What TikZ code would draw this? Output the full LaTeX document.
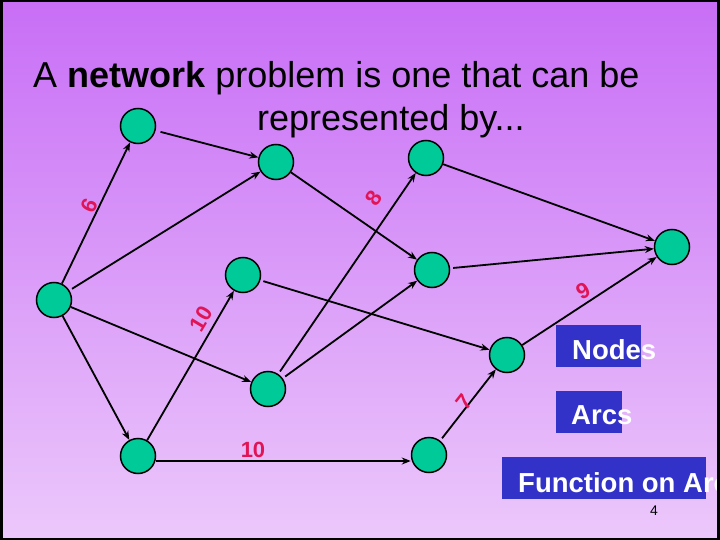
\documentclass[tikz,border=0pt]{standalone}
\usepackage{fontspec}
\setmainfont{Liberation Sans}
\usetikzlibrary{arrows.meta}
\definecolor{bgtop}{RGB}{200,110,246}
\definecolor{bgbot}{RGB}{236,200,251}
\definecolor{nodegreen}{RGB}{0,202,152}
\definecolor{labred}{RGB}{225,20,85}
\definecolor{boxblue}{RGB}{50,50,200}
\tikzset{
  vert/.style={circle, draw=black, line width=1.5pt, fill=nodegreen, minimum size=35pt, inner sep=0pt},
  arc/.style={draw=black, line width=1.8pt, -{Stealth[length=9pt,width=7pt]}},
  wlab/.style={text=labred, font=\bfseries\fontsize{22}{22}\selectfont, inner sep=0pt},
  titletext/.style={font=\fontsize{36}{36}\selectfont, inner sep=0pt, anchor=base west},
  bluebox/.style={fill=boxblue, draw=none},
  boxtext/.style={text=white, font=\bfseries\fontsize{27.5}{27.5}\selectfont, inner sep=0pt, anchor=base west}
}
\begin{document}
\begin{tikzpicture}[x=1pt,y=-1pt]
\useasboundingbox (0,0) rectangle (720,540);
\clip (0,0) rectangle (720,540);
\shade[top color=bgtop, bottom color=bgbot] (0,0) rectangle (720,540);

% title
\node[titletext] (t1) at (33,88) {A \textbf{network} problem is one that can be};
\node[titletext] (t2) at (257,131) {represented by...};

% nodes
\node[vert] (A) at (138,126) {};
\node[vert] (B) at (276,162) {};
\node[vert] (C) at (426,158) {};
\node[vert] (D) at (54,300) {};
\node[vert] (E) at (243,275) {};
\node[vert] (F) at (432,270) {};
\node[vert] (G) at (672,247) {};
\node[vert] (H) at (507,355) {};
\node[vert] (I) at (268,389) {};
\node[vert] (J) at (138,456) {};
\node[vert] (K) at (429,455) {};

% arcs
\draw[arc] (D) -- (A);
\draw[arc, shorten <=5pt] (A) -- (B);
\draw[arc, shorten <=3pt] (D) -- (B);
\draw[arc] (B) -- (F);
\draw[arc] (C) -- (G);
\draw[arc, shorten <=3pt] (F) -- (G);
\draw[arc] (H) -- (G);
\draw[arc, shorten <=3pt] (E) -- (H);
\draw[arc] (D) -- (I);
\draw[arc] (D) -- (J);
\draw[arc] (J) -- (E);
\draw[arc, shorten <=3pt] (I) -- (C);
\draw[arc, shorten <=3pt] (I) -- (F);
\draw[arc] ([yshift=-5pt]J.east) -- ([yshift=-6pt]K.west);
\draw[arc, shorten <=3pt] (K) -- (H);

% weights
\node[wlab, rotate=64] (w6) at (89,206) {6};
\node[wlab, rotate=55] (w8) at (374,198) {8};
\node[wlab, rotate=29] (w9) at (583,291) {9};
\node[wlab, rotate=52] (w7) at (464,402) {7};
\node[wlab, rotate=59] (w10a) at (201,319) {10};
\node[wlab] (w10b) at (253,450) {10};

% legend boxes
\fill[bluebox] (556,325) rectangle (641,367);
\node[boxtext] (ln) at (572,359) {Nodes};
\fill[bluebox] (556,391) rectangle (622,433);
\node[boxtext] (la) at (571,424) {Arcs};
\fill[bluebox] (502,457) rectangle (706,499);
\node[boxtext] (lf) at (518,492) {Function on Arc};

\node[font=\fontsize{14}{14}\selectfont, inner sep=0pt] (pg) at (654,511) {4};

% frame
\draw[black, line width=3pt] (1.5,1) rectangle (718.5,539);
\end{tikzpicture}
\end{document}
